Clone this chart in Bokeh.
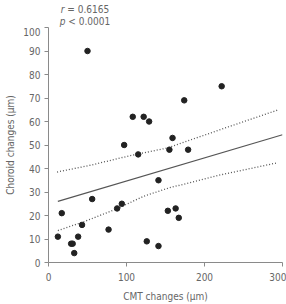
from bokeh.plotting import figure
from bokeh.models import Range1d, FixedTicker, Div
from bokeh.layouts import column
from bokeh.embed import file_html
from bokeh.resources import INLINE

# data
cmt = [12, 17, 29, 31, 33, 38, 43, 50, 56, 77, 88, 94, 97, 108, 115, 122, 126, 129,
       141, 141, 153, 155, 159, 163, 167, 174, 179, 222]
choroid = [11, 21, 8, 8, 4, 11, 16, 90, 27, 14, 23, 25, 50, 62, 46, 62, 9, 60,
           35, 7, 22, 48, 53, 23, 19, 69, 48, 75]

fit_x = [12, 300]
fit_y = [26.0, 54.4]
upper_x = [11, 54, 105, 152, 226, 295]
upper_y = [38.5, 41.4, 45.5, 48.7, 57.2, 65.0]
lower_x = [12, 45, 88, 122, 154, 222, 293]
lower_y = [13.6, 17.3, 22.9, 28.2, 31.7, 37.4, 42.4]

x_ticks = [0, 100, 200, 300]
y_ticks = [0, 10, 20, 30, 40, 50, 60, 70, 80, 90, 100]
stat_lines = [("r", " = 0.6165"), ("p", " &lt; 0.0001")]

FONT = "DejaVu Sans Condensed"
AX = "#8a8a8a"
TXT = "#666666"

p = figure(frame_width=234, frame_height=235, x_range=Range1d(0, 300), y_range=Range1d(0, 100),
           output_backend="svg", toolbar_location=None,
           min_border_left=48, min_border_right=4, min_border_top=0, min_border_bottom=39)
p.margin = 0
p.outline_line_color = None
p.xgrid.visible = False
p.ygrid.visible = False

p.line(upper_x, upper_y, line_color="#555555", line_width=1.3, line_dash="1 2")
p.line(lower_x, lower_y, line_color="#555555", line_width=1.3, line_dash="1 2")
p.line(fit_x, fit_y, line_color="#555555", line_width=1.1)
p.scatter(cmt, choroid, size=5.5, fill_color="#222222", line_color="#222222")

for ax in (p.xaxis[0], p.yaxis[0]):
    ax.axis_line_color = AX
    ax.major_tick_line_color = AX
    ax.minor_tick_line_color = None
    ax.major_tick_in = 0
    ax.major_tick_out = 4
    ax.major_label_text_font = FONT
    ax.major_label_text_font_size = "10px"
    ax.major_label_text_color = TXT
    ax.axis_label_text_font = FONT
    ax.axis_label_text_font_size = "10px"
    ax.axis_label_text_color = TXT
    ax.axis_label_text_font_style = "normal"

p.xaxis.ticker = FixedTicker(ticks=x_ticks)
p.yaxis.ticker = FixedTicker(ticks=y_ticks)
p.xaxis.axis_label = "CMT changes (μm)"
p.yaxis.axis_label = "Choroid changes (μm)"
p.xaxis.major_label_standoff = 6
p.yaxis.major_label_standoff = 4
p.xaxis.axis_label_standoff = 7
p.yaxis.axis_label_standoff = 4

html_lines = "<br>".join(f"<i>{a}</i>{b}" for a, b in stat_lines)
div = Div(text=(f'<div style="font-family:\'{FONT}\';font-size:10px;color:{TXT};'
                f'line-height:12.5px;padding-top:3.5px;margin-left:55px;width:60px;'
                f'height:27px;box-sizing:border-box;'
                f'text-align:center;white-space:nowrap">{html_lines}</div>'),
          width=286, height=27, margin=0)

layout = column(div, p, spacing=0, margin=0)
open("out.html", "w").write(file_html(layout, INLINE))
